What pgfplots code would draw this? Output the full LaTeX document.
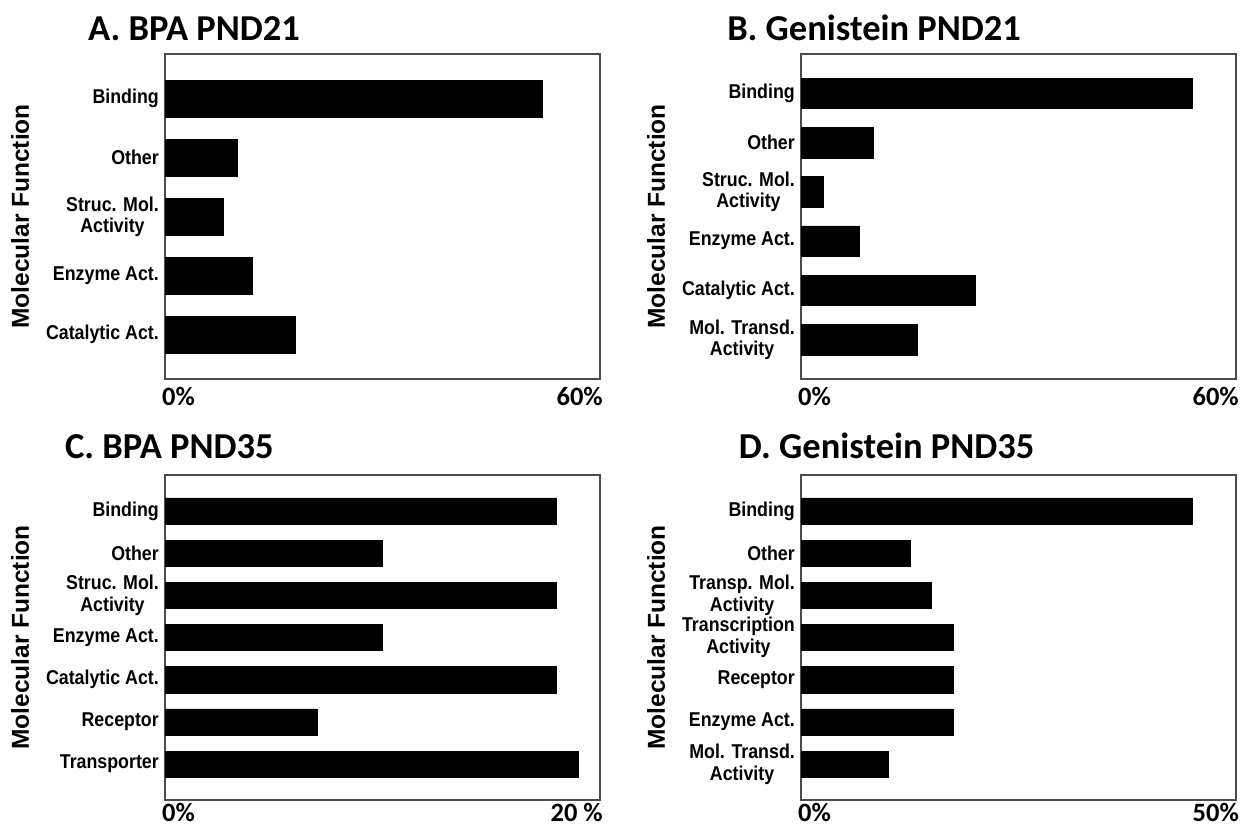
\documentclass[border=0pt]{standalone}
\usepackage{pgfplots}
\pgfplotsset{compat=1.18}
\usepackage{fontspec}
\setmainfont{Carlito}
\newfontfamily\arialf{Liberation Sans}
\newfontfamily\arialn{Liberation Sans}[FakeStretch=0.89]
\begin{document}
\begin{tikzpicture}
\path[use as bounding box] (0bp,0bp) rectangle (1243bp,-826bp);
\pgfplotsset{
  mfpanel/.style={
    width=435bp, height=325bp, scale only axis,
    anchor=north west,
    xbar, bar width=0.62,
    y dir=reverse,
    ytick=data,
    axis line style={draw=black!70, line width=1.3bp},
    major tick length=0pt,
    yticklabel style={font=\arialn\bfseries\fontsize{20bp}{21.5bp}\selectfont, align=center, inner sep=1bp, xshift=-5bp},
    xticklabel style={font=\bfseries\fontsize{26.5bp}{28bp}\selectfont, anchor=north west, xshift=-5bp, inner sep=2bp},
    extra x tick style={xticklabel style={anchor=north east, xshift=10bp}},
    xmin=0, xtick={0}, xticklabels={0\%},
    ylabel={Molecular Function},
    ylabel style={font=\arialf\bfseries\fontsize{24.5bp}{26bp}\selectfont, at={(axis description cs:-0.333,0.5)}, anchor=center},
    title style={font=\bfseries\fontsize{36.5bp}{38bp}\selectfont, anchor=base west, inner sep=0pt},
    clip=false,
  },
  mfbar/.style={fill=black, draw=black, line width=0.5bp},
}

% Panel A
\begin{axis}[mfpanel, at={(165bp,-54bp)},
  xmax=60, extra x ticks={60}, extra x tick labels={60\%},
  ymin=-0.76, ymax=4.75,
  xticklabel style={yshift=-6bp},
  yticklabels={Binding, Other, {Struc. Mol.\\Activity}, Enzyme Act., Catalytic Act.},
  title={A. BPA PND21}, title style={at={(axis description cs:-0.177,1)}, yshift=8bp}]
\addplot[mfbar] coordinates {(52,0) (10,1) (8,2) (12,3) (18,4)};
\end{axis}

% Panel B
\begin{axis}[mfpanel, at={(801bp,-54bp)},
  xmax=60, extra x ticks={60}, extra x tick labels={60\%},
  ymin=-0.8, ymax=5.8,
  xticklabel style={yshift=-6bp},
  yticklabels={Binding, Other, {Struc. Mol.\\Activity}, Enzyme Act., Catalytic Act., {Mol. Transd.\\Activity}},
  title={B. Genistein PND21}, title style={at={(axis description cs:-0.170,1)}, yshift=8bp}]
\addplot[mfbar] coordinates {(54,0) (10,1) (3,2) (8,3) (24,4) (16,5)};
\end{axis}

% Panel C
\begin{axis}[mfpanel, at={(165bp,-475bp)},
  xmax=20, extra x ticks={20}, extra x tick labels={20 \%},
  ymin=-0.85, ymax=6.85,
  xticklabel style={yshift=-1bp},
  yticklabels={Binding, Other, {Struc. Mol.\\Activity}, Enzyme Act., Catalytic Act., Receptor, Transporter},
  title={C. BPA PND35}, title style={at={(axis description cs:-0.230,1)}, yshift=11bp}]
\addplot[mfbar] coordinates {(18,0) (10,1) (18,2) (10,3) (18,4) (7,5) (19,6)};
\end{axis}

% Panel D
\begin{axis}[mfpanel, at={(801bp,-475bp)},
  xmax=50, extra x ticks={50}, extra x tick labels={50\%},
  ymin=-0.85, ymax=6.85,
  xticklabel style={yshift=-1bp},
  yticklabels={Binding, Other, {Transp. Mol.\\Activity}, {Transcription\\Activity}, Receptor, Enzyme Act., {Mol. Transd.\\Activity}},
  title={D. Genistein PND35}, title style={at={(axis description cs:-0.143,1)}, yshift=11bp}]
\addplot[mfbar] coordinates {(45,0) (12.5,1) (15,2) (17.5,3) (17.5,4) (17.5,5) (10,6)};
\end{axis}
\end{tikzpicture}
\end{document}
